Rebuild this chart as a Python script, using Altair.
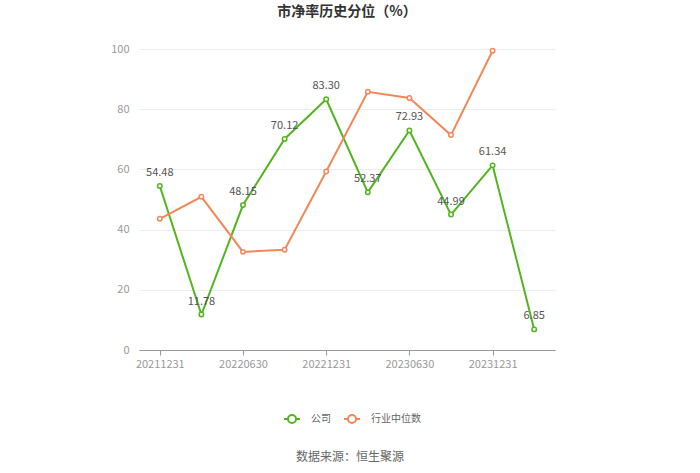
import altair as alt
import pandas as pd

dates = ["20211231", "20220331", "20220630", "20220930", "20221231",
         "20230331", "20230630", "20230930", "20231231", "20240331"]
company = [54.48, 11.78, 48.15, 70.12, 83.30, 52.37, 72.93, 44.99, 61.34, 6.85]
industry = [43.6, 50.9, 32.6, 33.3, 59.3, 85.8, 83.7, 71.4, 99.4, None]
shown_ticks = ["20211231", "20220630", "20221231", "20230630", "20231231"]
y_ticks = [0, 20, 40, 60, 80, 100]
series_names = ["公司", "行业中位数"]
series_colors = ["#52b520", "#f2875a"]
title_text = "市净率历史分位（%）"
source_text = "数据来源：恒生聚源"

rows = []
for d, c, i in zip(dates, company, industry):
    rows.append({"date": d, "series": series_names[0], "value": c, "label": f"{c:.2f}"})
    rows.append({"date": d, "series": series_names[1], "value": i, "label": ""})
df = pd.DataFrame(rows)

FONT = "Noto Sans CJK SC"

x = alt.X("date:O", sort=dates,
          scale=alt.Scale(type="point", domain=dates, padding=0.5),
          axis=alt.Axis(values=shown_ticks, labelAngle=0, title=None,
                        labelColor="#999999", labelFontSize=11, labelFont=FONT,
                        domainColor="#999999", tickColor="#999999", tickSize=5,
                        labelPadding=3, grid=False))
y = alt.Y("value:Q", scale=alt.Scale(domain=[0, 100]),
          axis=alt.Axis(values=y_ticks, title=None, domain=False, ticks=False,
                        gridColor="#ededed", labelColor="#999999",
                        labelFontSize=11, labelFont=FONT, labelPadding=10))
color = alt.Color("series:N", scale=alt.Scale(domain=series_names, range=series_colors),
                  legend=alt.Legend(orient="none", legendX=144, legendY=361,
                                    direction="horizontal", title=None,
                                    symbolType="M-1,0L-0.5,0M0.5,0L1,0M0.5,0A0.5,0.5,0,1,1,-0.5,0A0.5,0.5,0,1,1,0.5,0",
                                    symbolSize=256, symbolStrokeWidth=2,
                                    symbolFillColor="white",
                                    labelFontSize=10, labelColor="#666666",
                                    labelFont=FONT, labelOffset=10, columnPadding=9))

base = alt.Chart(df)
lines = base.mark_line(strokeWidth=2).encode(x=x, y=y, color=color)
points = base.mark_point(size=20, strokeWidth=1.5, opacity=1).encode(
    x=x, y=y, stroke=alt.Color("series:N", scale=alt.Scale(domain=series_names, range=series_colors), legend=None),
    fill=alt.value("white"))
labels = base.transform_filter(alt.datum.series == series_names[0]).mark_text(
    dy=-13, fontSize=11, color="#555555", font=FONT).encode(x=x, y=y, text="label:N")

source = alt.Chart(pd.DataFrame({"t": [source_text]})).mark_text(
    fontSize=12, color="#666666", font=FONT, align="center").encode(
    text="t:N", x=alt.value(211), y=alt.value(408))

chart = alt.layer(lines, points, labels, source).properties(
    width=416, height=301,
    background="white",
    title=alt.TitleParams(title_text, fontSize=14, fontWeight="bold", color="#333333",
                          font=FONT, anchor="middle", offset=24),
    autosize=alt.AutoSizeParams(type="none"),
    padding={"left": 139, "top": 49, "right": 145, "bottom": 123},
).configure_view(stroke=None)

chart.save("out.html", embed_options={"renderer": "svg", "actions": False})
